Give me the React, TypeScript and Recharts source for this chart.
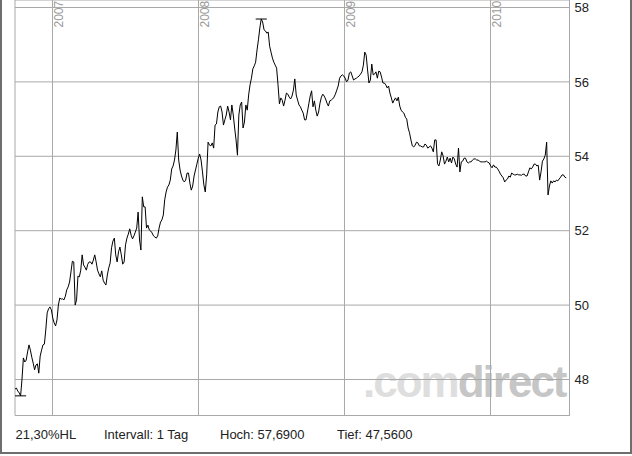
import React from 'react';
import { LineChart, Line, XAxis, YAxis, CartesianGrid, ReferenceLine } from 'recharts';

// Prices: one value at the start of each week and one mid-week.
const firstWeek = 2006.7432;
const weekStep = 7 / 365.25;
const weekCloses = [
  47.74, 47.69, 47.56, 48.58, 48.52, 48.93, 48.60, 48.26, 48.42, 48.63,
  48.93, 49.33, 49.90, 49.87, 49.52, 49.60, 50.19, 50.17, 50.24, 50.49,
  50.89, 51.16, 50.14, 50.76, 51.35, 51.02, 51.10, 51.16, 51.21, 51.16,
  50.84, 50.92, 50.59, 50.81, 51.13, 51.72, 51.35, 51.43, 51.35, 51.16,
  51.80, 52.05, 51.78, 51.96, 52.50, 51.48, 52.64, 52.07, 52.02, 51.94,
  51.83, 51.86, 52.23, 52.42, 53.04, 53.23, 53.66, 53.90, 54.65, 53.63,
  53.36, 53.36, 53.55, 53.09, 53.47, 53.79, 54.06, 53.58, 53.04, 54.38,
  54.28, 54.22, 54.87, 55.33, 55.19, 54.98, 55.35, 54.98, 55.11, 54.44,
  55.11, 55.46, 54.92, 55.24, 55.92, 56.35, 56.53, 57.13, 57.69, 57.40,
  57.31, 56.96, 56.64, 56.45, 55.92, 55.57, 55.35, 55.70, 55.59, 55.62,
  56.08, 55.51, 55.33, 55.16, 54.98, 55.41, 55.76, 55.49, 55.08, 55.43,
  55.67, 55.54, 55.35, 55.51, 55.59, 55.78, 56.10, 56.19, 56.10, 56.05,
  56.27, 56.05, 56.10, 56.16, 56.27, 56.80, 56.32, 56.05, 56.19, 56.27,
  56.29, 56.13, 55.97, 55.84, 55.70, 55.43, 55.57, 55.59, 55.24, 55.16,
  55.00, 54.63, 54.28, 54.30, 54.36, 54.28, 54.25, 54.30, 54.25, 54.22,
  54.44, 53.80, 53.90, 54.01, 53.87, 53.85, 53.82, 53.93, 53.71, 53.58,
  53.87, 53.95, 53.82, 53.85, 53.93, 53.90, 53.87, 53.85, 53.85, 53.84,
  53.74, 53.77, 53.71, 53.60, 53.47, 53.31, 53.39, 53.44, 53.52, 53.50,
  53.50, 53.49, 53.52, 53.47, 53.69, 53.71, 53.79, 53.76, 53.58, 53.93,
  54.38, 53.20, 53.28, 53.31, 53.34, 53.44, 53.50, 53.42,
];
const midweekCloses = [
  47.77, 47.64, 48.01, 48.47, 48.74, 48.79, 48.44, 48.39, 48.17, 48.79,
  48.95, 49.79, 49.95, 49.65, 49.44, 50.00, 50.16, 50.14, 50.41, 50.62,
  51.18, 50.00, 50.78, 50.94, 51.08, 50.94, 51.16, 51.10, 51.35, 50.94,
  50.76, 50.67, 50.54, 51.00, 51.54, 51.80, 51.16, 51.56, 51.10, 51.62,
  51.91, 51.88, 51.86, 52.07, 51.75, 52.91, 52.64, 52.15, 51.99, 51.86,
  51.80, 52.07, 52.29, 52.83, 53.17, 53.36, 53.74, 54.17, 53.90, 53.47,
  53.31, 53.55, 53.28, 53.20, 53.63, 53.95, 53.90, 53.23, 53.50, 54.30,
  54.36, 54.84, 55.19, 55.35, 54.84, 55.11, 55.19, 55.38, 54.76, 54.03,
  55.38, 54.76, 55.38, 55.65, 56.10, 56.43, 56.86, 57.45, 57.61, 57.37,
  57.34, 56.80, 56.53, 56.37, 55.41, 55.51, 55.51, 55.67, 55.54, 55.78,
  55.65, 55.38, 55.24, 54.98, 55.19, 55.62, 55.33, 55.24, 55.19, 55.59,
  55.62, 55.43, 55.49, 55.54, 55.67, 55.89, 56.16, 56.16, 56.00, 56.24,
  56.16, 56.08, 56.13, 56.21, 56.45, 56.72, 55.97, 56.48, 56.21, 56.10,
  56.27, 55.97, 55.92, 55.89, 55.57, 55.51, 55.49, 55.35, 55.19, 55.05,
  54.76, 54.44, 54.25, 54.38, 54.28, 54.25, 54.33, 54.22, 54.28, 54.12,
  54.44, 53.74, 54.12, 53.79, 53.98, 53.95, 53.98, 53.79, 54.22, 53.85,
  53.95, 53.85, 53.85, 53.90, 53.93, 53.90, 53.85, 53.85, 53.87, 53.82,
  53.69, 53.71, 53.66, 53.52, 53.42, 53.36, 53.47, 53.55, 53.50, 53.52,
  53.50, 53.52, 53.47, 53.58, 53.66, 53.79, 53.74, 53.36, 53.87, 54.03,
  52.96, 53.34, 53.34, 53.36, 53.39, 53.50, 53.44,
];

const yearTicks = [2007, 2008, 2009, 2010];
const priceTicks = [48, 50, 52, 54, 56, 58];
const xDomain: [number, number] = [2006.7432, 2010.5411];
const yDomain: [number, number] = [47.032, 58.2016];
const footerTexts = ['21,30%HL', 'Intervall: 1 Tag', 'Hoch: 57,6900', 'Tief: 47,5600'];
const footerX = [15.5, 104, 220, 337];
const watermarkParts = ['.com', 'direct'];

const data: { t: number; c: number }[] = [];
weekCloses.forEach((c, i) => {
  data.push({ t: firstWeek + i * weekStep, c });
  if (i < midweekCloses.length) {
    data.push({ t: firstWeek + (i + 0.5) * weekStep, c: midweekCloses[i] });
  }
});

const allValues = data.map((d) => d.c);
const hiIdx = allValues.indexOf(Math.max(...allValues));
const loIdx = allValues.indexOf(Math.min(...allValues));
const markHalf = 0.038;

const FONT = '"Liberation Sans", Arial, Helvetica, sans-serif';
const GRID = '#a8a8a8';

const YearTick = (props: any) => {
  const { x, payload } = props;
  const bx = x + 10.5;
  const by = 27.5;
  return (
    <text
      x={bx}
      y={by}
      transform={`rotate(-90, ${bx}, ${by})`}
      fill="#9a9a9a"
      fontSize={12}
      fontFamily={FONT}
      textAnchor="start"
    >
      {payload.value}
    </text>
  );
};

export default function App() {
  return (
    <div style={{ position: 'absolute', left: 0, top: 0, width: 632, height: 456, background: '#fff', overflow: 'hidden' }}>
      <svg width={632} height={456} style={{ position: 'absolute', left: 0, top: 0 }}>
        <text x={363} y={397} fontSize={44} fontWeight="bold" fontFamily={FONT} letterSpacing={-2}>
          <tspan fill="#dedede">{watermarkParts[0]}</tspan>
          <tspan fill="#c6c6c6">{watermarkParts[1]}</tspan>
        </text>
        {footerTexts.map((s, i) => (
          <text key={s} x={footerX[i]} y={439} fontSize={13} fontFamily={FONT} fill="#222">
            {s}
          </text>
        ))}
      </svg>
      <div style={{ position: 'absolute', left: 0, top: 0 }}>
        <LineChart width={632} height={420} data={data} margin={{ top: -1, right: 2.5, left: 15, bottom: 4.5 }}>
          <CartesianGrid stroke={GRID} strokeWidth={1} />
          <XAxis
            type="number"
            dataKey="t"
            domain={xDomain}
            ticks={yearTicks}
            orientation="top"
            height={1}
            axisLine={false}
            tickLine={false}
            tick={<YearTick />}
            interval={0}
            allowDataOverflow
          />
          <YAxis
            type="number"
            domain={yDomain}
            ticks={priceTicks}
            orientation="right"
            width={60}
            axisLine={false}
            tickLine={false}
            tickSize={0}
            tickMargin={5}
            tick={{ fill: '#222', fontSize: 13, fontFamily: FONT }}
            interval={0}
            allowDataOverflow
          />
          <ReferenceLine y={yDomain[0]} stroke={GRID} ifOverflow="visible" />
          <ReferenceLine x={xDomain[1]} stroke={GRID} ifOverflow="visible" />
          <Line
            type="linear"
            dataKey="c"
            stroke="#000"
            strokeWidth={1}
            dot={false}
            isAnimationActive={false}
          />
          <ReferenceLine
            segment={[
              { x: data[hiIdx].t - markHalf, y: allValues[hiIdx] },
              { x: data[hiIdx].t + markHalf, y: allValues[hiIdx] },
            ]}
            stroke="#000"
            ifOverflow="visible"
          />
          <ReferenceLine
            segment={[
              { x: data[loIdx].t - markHalf, y: allValues[loIdx] },
              { x: data[loIdx].t + markHalf, y: allValues[loIdx] },
            ]}
            stroke="#000"
            ifOverflow="visible"
          />
        </LineChart>
      </div>
      <div
        style={{
          position: 'absolute',
          left: 0,
          top: -2,
          width: 632,
          height: 456,
          boxSizing: 'border-box',
          border: '2px solid #6e6e6e',
          pointerEvents: 'none',
        }}
      />
    </div>
  );
}
